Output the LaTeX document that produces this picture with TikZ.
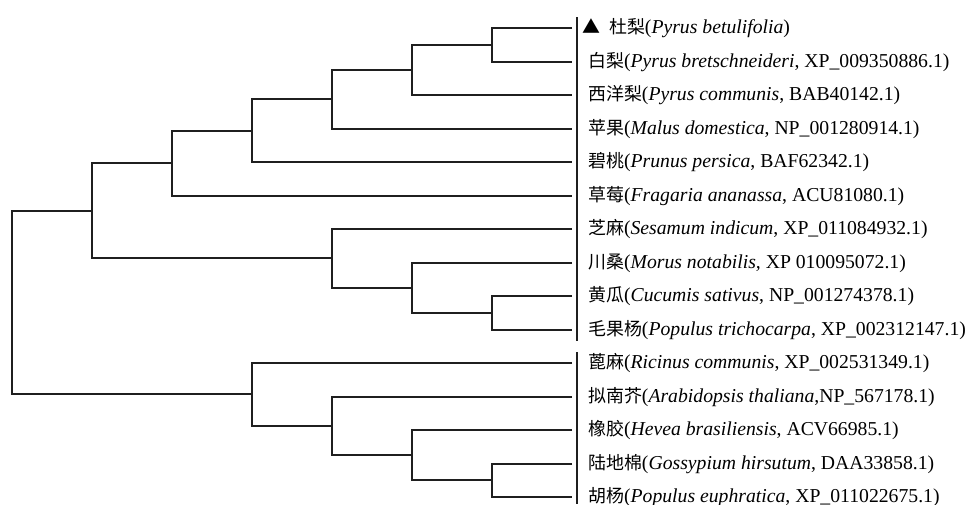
\documentclass[tikz,border=0pt]{standalone}
\usepackage{fontspec}
\setmainfont{Liberation Serif}
\newfontfamily\cjk[Scale=0.91]{Noto Sans CJK SC}
\usetikzlibrary{calc, positioning}

\begin{document}
\begin{tikzpicture}[x=1pt, y=-1pt,
  branch/.style={line width=2pt, black!88, line join=miter},
  sep/.style={line width=2pt, black!88},
  taxon/.style={anchor=base west, inner sep=0pt, font=\fontsize{19.7}{22}\selectfont}]
\useasboundingbox (0,0) rectangle (974,504);

% clade: name, column, upper child, lower child
\def\clade#1#2#3#4{%
  \coordinate (mid) at ($(#3)!.5!(#4)$);
  \coordinate (#1) at (mid -| #2);
  \draw[branch] (#3) -| (#1) |- (#4);
}

\foreach \i in {1,...,15}
  \coordinate (t\i) at (572,{28+(\i-1)*33.5});
\foreach \k in {0,...,6}
  \coordinate (k\k) at ({12+80*\k},0);

% upper group
\clade{a12}{k6}{t1}{t2}
\clade{a123}{k5}{a12}{t3}
\clade{a1234}{k4}{a123}{t4}
\clade{a1235}{k3}{a1234}{t5}
\clade{a16}{k2}{a1235}{t6}
\clade{b910}{k6}{t9}{t10}
\clade{b810}{k5}{t8}{b910}
\clade{b710}{k4}{t7}{b810}
\clade{ab}{k1}{a16}{b710}

% lower group
\clade{c1415}{k6}{t14}{t15}
\clade{c1315}{k5}{t13}{c1415}
\clade{c1215}{k4}{t12}{c1315}
\clade{c1115}{k3}{t11}{c1215}
\clade{root}{k0}{ab}{c1115}

\draw[sep] (577,17) -- (577,341);
\draw[sep] (577,352) -- (577,504);

\node[taxon] (l1) at ($(t1)+(10,5.5)$) {{\cjk ▲}\hspace{9pt}{\cjk 杜梨}(\textit{Pyrus betulifolia})};
\node[taxon] (l2) at ($(t2)+(16,5.5)$) {{\cjk 白梨}(\textit{Pyrus bretschneideri}, XP\_009350886.1)};
\node[taxon] (l3) at ($(t3)+(16,5.5)$) {{\cjk 西洋梨}(\textit{Pyrus communis}, BAB40142.1)};
\node[taxon] (l4) at ($(t4)+(16,5.5)$) {{\cjk 苹果}(\textit{Malus domestica}, NP\_001280914.1)};
\node[taxon] (l5) at ($(t5)+(16,5.5)$) {{\cjk 碧桃}(\textit{Prunus persica}, BAF62342.1)};
\node[taxon] (l6) at ($(t6)+(16,5.5)$) {{\cjk 草莓}(\textit{Fragaria ananassa}, ACU81080.1)};
\node[taxon] (l7) at ($(t7)+(16,5.5)$) {{\cjk 芝麻}(\textit{Sesamum indicum}, XP\_011084932.1)};
\node[taxon] (l8) at ($(t8)+(16,5.5)$) {{\cjk 川桑}(\textit{Morus notabilis,} XP 010095072.1)};
\node[taxon] (l9) at ($(t9)+(16,5.5)$) {{\cjk 黄瓜}(\textit{Cucumis sativus}, NP\_001274378.1)};
\node[taxon] (l10) at ($(t10)+(16,5.5)$) {{\cjk 毛果杨}(\textit{Populus trichocarpa}, XP\_002312147.1)};
\node[taxon] (l11) at ($(t11)+(16,5.5)$) {{\cjk 蓖麻}(\textit{Ricinus communis}, XP\_002531349.1)};
\node[taxon] (l12) at ($(t12)+(16,5.5)$) {{\cjk 拟南芥}(\textit{Arabidopsis thaliana},NP\_567178.1)};
\node[taxon] (l13) at ($(t13)+(16,5.5)$) {{\cjk 橡胶}(\textit{Hevea brasiliensis}, ACV66985.1)};
\node[taxon] (l14) at ($(t14)+(16,5.5)$) {{\cjk 陆地棉}(\textit{Gossypium hirsutum}, DAA33858.1)};
\node[taxon] (l15) at ($(t15)+(16,5.5)$) {{\cjk 胡杨}(\textit{Populus euphratica}, XP\_011022675.1)};
\end{tikzpicture}
\end{document}
